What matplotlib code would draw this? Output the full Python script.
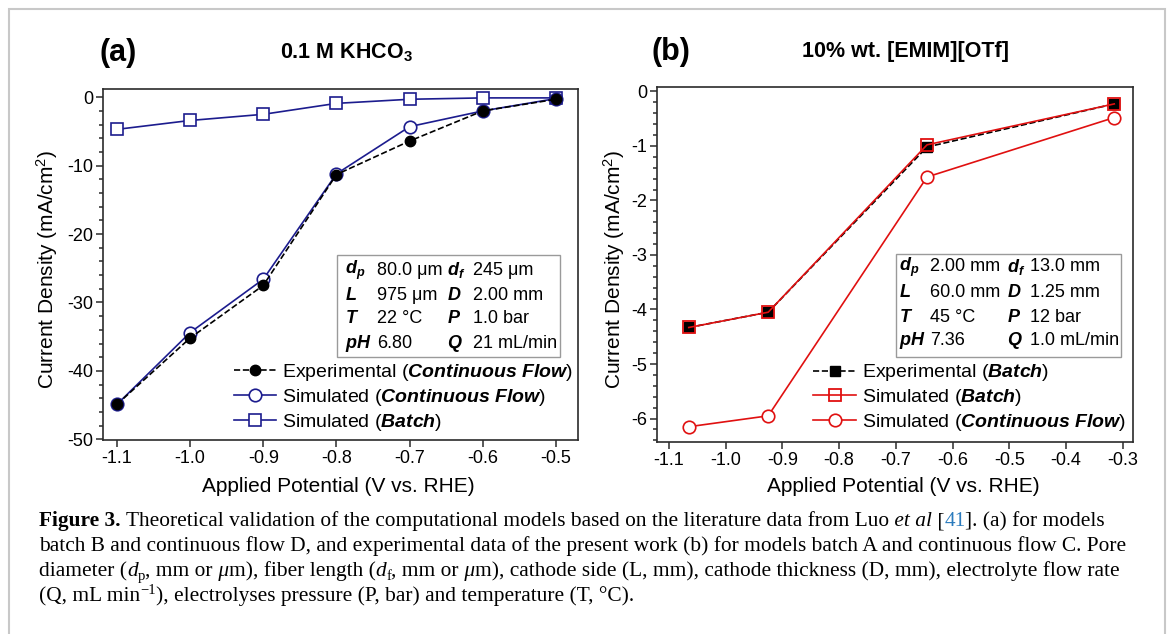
import matplotlib
matplotlib.use("Agg")
import matplotlib.pyplot as plt
from matplotlib.patches import Rectangle
from matplotlib.ticker import MultipleLocator

plt.rcParams['font.family'] = ['Liberation Sans', 'DejaVu Sans']
plt.rcParams['mathtext.fontset'] = 'custom'
plt.rcParams['mathtext.rm'] = 'Liberation Sans'
plt.rcParams['mathtext.it'] = 'Liberation Sans:italic'
plt.rcParams['mathtext.bf'] = 'Liberation Sans:bold'
plt.rcParams['mathtext.bfit'] = 'Liberation Sans:italic:bold'

NAVY = '#1c1c8e'
RED = '#e01010'
SPINE = '#2b2b2b'

# ---- data, panel (a): 0.1 M KHCO3 ----
pot_a = [-1.1, -1.0, -0.9, -0.8, -0.7, -0.6, -0.5]
exp_cf_a = [-44.9, -35.2, -27.5, -11.3, -6.4, -2.0, -0.3]
sim_cf_a = [-44.9, -34.4, -26.6, -11.2, -4.3, -2.0, -0.2]
sim_batch_a = [-4.7, -3.4, -2.5, -0.9, -0.3, -0.1, -0.1]

# ---- data, panel (b): 10% wt. [EMIM][OTf] ----
pot_b = [-1.065, -0.925, -0.645, -0.315]
exp_batch_b = [-4.33, -4.05, -1.02, -0.23]
sim_batch_b = [-4.33, -4.05, -0.98, -0.23]
sim_cf_b = [-6.15, -5.95, -1.57, -0.48]

xticks_a = [-1.1, -1.0, -0.9, -0.8, -0.7, -0.6, -0.5]
yticks_a = [0, -10, -20, -30, -40, -50]
xticks_b = [-1.1, -1.0, -0.9, -0.8, -0.7, -0.6, -0.5, -0.4, -0.3]
yticks_b = [0, -1, -2, -3, -4, -5, -6]

params_a = [(r"$\mathbfit{d_p}$", "80.0 μm", r"$\mathbfit{d_f}$", "245 μm"),
            (r"$\mathbfit{L}$", "975 μm", r"$\mathbfit{D}$", "2.00 mm"),
            (r"$\mathbfit{T}$", "22 °C", r"$\mathbfit{P}$", "1.0 bar"),
            (r"$\mathbfit{pH}$", "6.80", r"$\mathbfit{Q}$", "21 mL/min")]
params_b = [(r"$\mathbfit{d_p}$", "2.00 mm", r"$\mathbfit{d_f}$", "13.0 mm"),
            (r"$\mathbfit{L}$", "60.0 mm", r"$\mathbfit{D}$", "1.25 mm"),
            (r"$\mathbfit{T}$", "45 °C", r"$\mathbfit{P}$", "12 bar"),
            (r"$\mathbfit{pH}$", "7.36", r"$\mathbfit{Q}$", "1.0 mL/min")]

W, H = 1168, 634
fig = plt.figure(figsize=(W / 100, H / 100), dpi=100)

# page frame
fig.add_artist(Rectangle((9 / W, -0.05), (1165 - 9) / W, 1 - 9 / H + 0.05,
                         transform=fig.transFigure, fill=False, ec='#c8c8c8', lw=1.5))

ax_a = fig.add_axes([103 / W, 1 - 440 / H, 475 / W, 351 / H])
ax_b = fig.add_axes([657 / W, 1 - 442 / H, 476 / W, 355 / H])


def style_axes(ax, xticks, yticks, yminor):
    for s in ax.spines.values():
        s.set_color(SPINE)
        s.set_linewidth(1.2)
    ax.set_xticks(xticks)
    ax.set_xticklabels([f"{v:.1f}" for v in xticks])
    ax.set_yticks(yticks)
    ax.set_yticklabels([f"{v:g}" for v in yticks])
    ax.yaxis.set_minor_locator(MultipleLocator(yminor))
    ax.tick_params(which='both', direction='out', top=False, right=False,
                   color=SPINE, width=1.1, labelsize=13, pad=2)
    ax.tick_params(which='major', length=5)
    ax.tick_params(which='minor', length=3)
    ax.set_xlabel("Applied Potential (V vs. RHE)", fontsize=15)
    ax.set_ylabel("Current Density (mA/cm$^2$)", fontsize=15)


def param_box(ax, rows, x0, x1, y0, y1, cols, ys):
    ax.add_patch(Rectangle((x0, y0), x1 - x0, y1 - y0, transform=ax.transAxes,
                           fill=False, ec='#9a9a9a', lw=1.0, zorder=5))
    for row, yy in zip(rows, ys):
        for txt, xx in zip(row, cols):
            ax.text(xx, yy, txt, transform=ax.transAxes, fontsize=13,
                    ha='left', va='center', zorder=6)


# ---- panel (a) ----
ax_a.plot(pot_a, sim_batch_a, '-s', color=NAVY, mfc='white', mec=NAVY, ms=8, lw=1.2,
          mew=1.2, label=r"Simulated ($\mathbfit{Batch}$)", zorder=3)
ax_a.plot(pot_a, sim_cf_a, '-o', color=NAVY, mfc='white', mec=NAVY, ms=9, lw=1.2,
          mew=1.2, label=r"Simulated ($\mathbfit{Continuous\ Flow}$)", zorder=3)
ax_a.plot(pot_a, exp_cf_a, '--o', color='black', mfc='black', ms=7.5, lw=1.2,
          label=r"Experimental ($\mathbfit{Continuous\ Flow}$)", zorder=4)
ax_a.set_xlim(-1.119, -0.47)
ax_a.set_ylim(-50.1, 1.2)
style_axes(ax_a, xticks_a, yticks_a, 2)
ax_a.xaxis.set_label_coords((338 - 103) / 475, -0.105)
ax_a.yaxis.set_label_coords((60 - 103) / 475, 0.485)
h, l = ax_a.get_legend_handles_labels()
ax_a.legend([h[2], h[1], h[0]], [l[2], l[1], l[0]], loc='lower right',
            bbox_to_anchor=(0.99, 0.02), frameon=False, fontsize=14,
            borderpad=0, borderaxespad=0, labelspacing=0.2, handlelength=2.2,
            handletextpad=0.3)
param_box(ax_a, params_a, 0.493, 0.962, 0.236, 0.527,
          [0.509, 0.577, 0.724, 0.779], [0.484, 0.413, 0.345, 0.276])

# ---- panel (b) ----
ax_b.plot(pot_b, sim_cf_b, '-o', color=RED, mfc='white', mec=RED, ms=9, lw=1.2,
          mew=1.2, label=r"Simulated ($\mathbfit{Continuous\ Flow}$)", zorder=3)
ax_b.plot(pot_b, exp_batch_b, '--s', color='black', mfc='black', ms=7.5, lw=1.2,
          label=r"Experimental ($\mathbfit{Batch}$)", zorder=3)
ax_b.plot(pot_b, sim_batch_b, '-s', color=RED, mfc='none', mec=RED, ms=8.5, lw=1.2,
          mew=1.3, label=r"Simulated ($\mathbfit{Batch}$)", zorder=4)
ax_b.set_xlim(-1.121, -0.282)
ax_b.set_ylim(-6.43, 0.08)
style_axes(ax_b, xticks_b, yticks_b, 0.2)
ax_b.xaxis.set_label_coords((903 - 657) / 476, -0.099)
ax_b.yaxis.set_label_coords((627 - 657) / 476, 0.485)
h, l = ax_b.get_legend_handles_labels()
ax_b.legend([h[1], h[2], h[0]], [l[1], l[2], l[0]], loc='lower right',
            bbox_to_anchor=(0.985, 0.025), frameon=False, fontsize=14,
            borderpad=0, borderaxespad=0, labelspacing=0.2, handlelength=2.2,
            handletextpad=0.3)
param_box(ax_b, params_b, 0.502, 0.975, 0.239, 0.530,
          [0.508, 0.574, 0.735, 0.784], [0.493, 0.420, 0.352, 0.287])

# ---- panel titles ----
fig.text(118 / W, 1 - 53 / H, "(a)", fontsize=22, fontweight='bold', ha='center', va='center')
fig.text(347 / W, 1 - 53 / H, r"0.1 M KHCO$_\mathbf{3}$", fontsize=15.5, fontweight='bold',
         ha='center', va='center')
fig.text(671 / W, 1 - 52 / H, "(b)", fontsize=22, fontweight='bold', ha='center', va='center')
fig.text(905 / W, 1 - 52 / H, "10% wt. [EMIM][OTf]", fontsize=15.5, fontweight='bold',
         ha='center', va='center')

# ---- caption (pieces placed one after another) ----
CAP_SIZE = 15.4
renderer = fig.canvas.get_renderer()


def caption_runs(x, y_px, runs):
    for s, kw in runs:
        kw = dict(kw)
        dy = kw.pop('dy', 0)
        size = kw.pop('size', CAP_SIZE)
        t = fig.text(x, 1 - (y_px - dy) / H, s, fontsize=size, family='Liberation Serif',
                     va='baseline', **kw)
        x += t.get_window_extent(renderer=renderer).width / fig.bbox.width


cx = 39 / W
base = 526
step = 25
SUB = dict(size=10.5, dy=-4)
caption_runs(cx, base, [
    ("Figure 3.", dict(fontweight='bold')),
    (" Theoretical validation of the computational models based on the literature data from Luo", {}),
    (" et al", dict(style='italic')),
    (" [", {}),
    ("41", dict(color='#2b7bbd')),
    ("]. (a) for models", {}),
])
caption_runs(cx, base + step, [
    ("batch B and continuous flow D, and experimental data of the present work (b) for models "
     "batch A and continuous flow C. Pore", {}),
])
caption_runs(cx, base + 2 * step, [
    ("diameter (", {}),
    ("d", dict(style='italic')),
    ("p", SUB),
    (", mm or", {}),
    (" μ", dict(style='italic')),
    ("m), fiber length (", {}),
    ("d", dict(style='italic')),
    ("f", SUB),
    (", mm or", {}),
    (" μ", dict(style='italic')),
    ("m), cathode side (L, mm), cathode thickness (D, mm), electrolyte flow rate", {}),
])
caption_runs(cx, base + 3 * step, [
    ("(Q, mL min", {}),
    ("−1", dict(size=10.5, dy=7)),
    ("), electrolyses pressure (P, bar) and temperature (T, °C).", {}),
])

fig.savefig("out.png", dpi=100)
